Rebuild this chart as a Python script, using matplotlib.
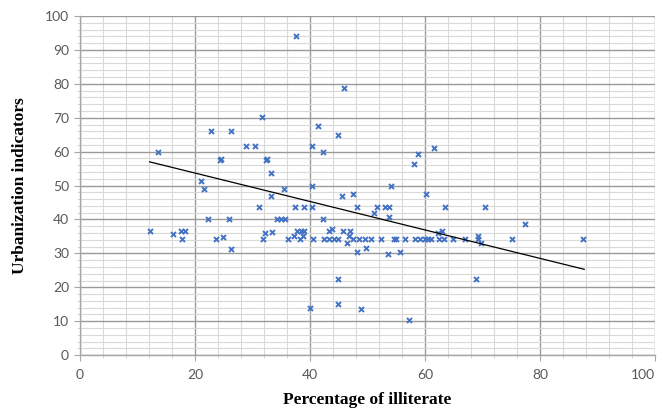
import numpy as np
import matplotlib
matplotlib.use("Agg")
import matplotlib.pyplot as plt
from matplotlib.ticker import MultipleLocator

# Data
illiterate = [12.1, 13.6, 16.2, 17.6, 18.2, 17.8, 21.0, 21.5, 22.2, 22.7,
              23.7, 24.3, 24.5, 24.8, 25.9, 26.2, 26.3, 28.9, 30.4, 31.1,
              31.7, 31.8, 32.2, 32.4, 32.6, 33.2, 33.2, 33.4, 34.2, 35.0,
              35.6, 35.5, 36.1, 37.3, 37.4, 37.6, 37.8, 38.4, 39.0, 38.2,
              38.8, 39.0, 40.3, 40.0, 40.3, 40.4, 40.6, 41.4, 42.2, 42.3,
              42.5, 43.3, 44.1, 44.9, 43.3, 43.9, 44.8, 44.8, 44.9, 45.6,
              45.8, 45.9, 46.4, 46.8, 47.0, 47.4, 47.5, 48.1, 48.2, 48.5,
              48.8, 49.6, 49.8, 50.6, 51.1, 51.6, 52.3, 53.0, 53.7, 53.7,
              53.6, 54.0, 54.6, 55.0, 55.6, 56.5, 57.2, 58.1, 58.8, 58.3,
              59.2, 60.0, 60.6, 61.1, 60.1, 61.5, 62.3, 62.9, 62.4, 63.3,
              63.5, 64.9, 67.0, 68.9, 69.2, 69.2, 69.8, 70.4, 75.1, 77.4,
              87.5]
urbanization = [36.7, 60.0, 35.6, 36.7, 36.7, 34.1, 51.4, 48.9, 40.0, 66.2,
                34.1, 57.5, 57.8, 34.7, 40.0, 31.2, 66.2, 61.7, 61.7, 43.6,
                70.1, 34.1, 35.9, 57.5, 57.8, 53.8, 46.9, 36.2, 40.0, 40.0,
                40.0, 48.9, 34.1, 35.1, 43.6, 94.1, 36.7, 36.7, 36.7, 34.1,
                35.1, 43.6, 43.6, 14.0, 61.7, 49.9, 34.1, 67.6, 60.0, 40.1,
                34.1, 34.1, 34.1, 34.1, 36.7, 37.1, 22.3, 15.0, 64.9, 46.9,
                36.7, 78.7, 33.0, 35.1, 36.7, 47.4, 34.1, 30.5, 43.6, 34.1,
                13.5, 34.1, 31.7, 34.1, 42.0, 43.6, 34.1, 43.6, 43.6, 40.6,
                29.8, 49.9, 34.1, 34.1, 30.5, 34.1, 10.5, 56.3, 59.3, 34.1,
                34.1, 34.1, 34.1, 34.1, 47.5, 61.0, 35.9, 36.7, 34.1, 34.1,
                43.6, 34.1, 34.1, 22.3, 35.1, 34.1, 33.0, 43.6, 34.1, 38.6,
                34.1]
# Trend line end points as drawn in the reference
trend_x = [12.1, 87.7]
trend_y = [57.0, 25.3]
x_ticks = [0, 20, 40, 60, 80, 100]
y_ticks = [0, 10, 20, 30, 40, 50, 60, 70, 80, 90, 100]

fig = plt.figure(figsize=(6.67, 4.11), dpi=100)
ax = fig.add_axes([0.12, 0.136, 0.862, 0.825])

ax.set_xlim(0, 100)
ax.set_ylim(0, 100)
ax.set_xticks(x_ticks)
ax.set_yticks(y_ticks)
ax.xaxis.set_minor_locator(MultipleLocator(4))
ax.yaxis.set_minor_locator(MultipleLocator(2))

ax.grid(which='major', color='#9a9a9a', linewidth=1.0, zorder=0)
ax.grid(which='minor', color='#d9d9d9', linewidth=0.8, zorder=0)
ax.set_axisbelow(True)

for s in ['top', 'right']:
    ax.spines[s].set_visible(False)
for s in ['left', 'bottom']:
    ax.spines[s].set_color('#a6a6a6')
    ax.spines[s].set_linewidth(1.0)

ax.tick_params(which='major', length=4, color='#a6a6a6', labelsize=10,
               labelcolor='#595959')
ax.tick_params(axis='x', which='major', pad=6)
ax.tick_params(axis='y', which='major', pad=4)
ax.tick_params(which='minor', length=2, color='#d0d0d0')
for lab in ax.get_xticklabels() + ax.get_yticklabels():
    lab.set_fontfamily('Lato')
xl = ax.get_xticklabels()
xl[-1].set_horizontalalignment('right')
xl[-1].set_x(100)

ax.scatter(illiterate, urbanization, marker='x', s=13, linewidths=1.4,
           color='#4472C4', zorder=3)

ax.plot(trend_x, trend_y, color='black', linewidth=0.9, zorder=4)

ax.set_xlabel('Percentage of illiterate', family='Liberation Serif',
              fontweight='bold', fontsize=12.5, labelpad=8)
ax.set_ylabel('Urbanization indicators', family='Liberation Serif',
              fontweight='bold', fontsize=12.5, labelpad=12)

fig.savefig('out.png', dpi=100)
